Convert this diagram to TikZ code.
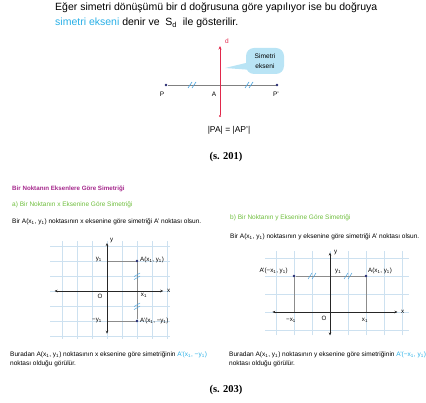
\documentclass[tikz,border=0pt]{standalone}
\usepackage{fontspec}
\setmainfont{Liberation Sans}
\newfontfamily\capfont{Liberation Serif}
\usetikzlibrary{arrows.meta,calc}
\definecolor{cyantxt}{RGB}{40,175,230}
\definecolor{magtxt}{RGB}{165,40,140}
\definecolor{greentxt}{RGB}{110,190,60}
\definecolor{redline}{RGB}{225,40,75}
\definecolor{dotblue}{RGB}{35,40,110}
\definecolor{bubble}{RGB}{185,228,245}
\definecolor{tickblue}{RGB}{70,160,220}
\definecolor{gridblue}{RGB}{205,225,240}
\begin{document}
\begin{tikzpicture}[x=1pt,y=-1pt,
  txt/.style={inner sep=0pt,anchor=west,font=\fontsize{10.5}{12}\selectfont},
  small/.style={inner sep=0pt,anchor=west,font=\fontsize{6.5}{7}\selectfont},
  lbl/.style={inner sep=0pt,font=\fontsize{6.5}{7}\selectfont},
  glbl/.style={inner sep=0pt,font=\fontsize{6.2}{7}\selectfont},
  captxt/.style={inner sep=0pt,font=\capfont\bfseries\fontsize{10.5}{12}\selectfont},
  gridline/.style={draw=gridblue,line width=0.4pt},
  axisline/.style={draw=black!85,line width=0.8pt,{Stealth[length=3pt,width=2.5pt]}-{Stealth[length=3pt,width=2.5pt]}},
  helper/.style={draw=black!45,line width=0.4pt},
  tickmark/.style={draw=tickblue,line width=0.5pt},
  dot/.style={circle,fill=dotblue,inner sep=0pt,minimum size=2.6pt}]
\useasboundingbox (0,0) rectangle (426,403);
% ---------- top text ----------
\node[txt] (l1) at (55,8) {Eğer simetri dönüşümü bir d doğrusuna göre yapılıyor ise bu doğruya};
\node[txt] (l2) at (55,23) {\textcolor{cyantxt}{simetri ekseni} denir ve \ S\textsubscript{d} \ ile gösterilir.};
% ---------- top figure ----------
\coordinate (dtop) at (220,46);
\node[circle,fill=redline,inner sep=0pt,minimum size=2.4pt] (dbot) at (220,116) {};
\node[dot] (P) at (166,85) {};
\node[dot] (Pp) at (277,85) {};
\coordinate (A) at (220,85);
\fill[bubble,rounded corners=8pt] (246,48) rectangle (284,74);
\fill[bubble] (250,62) -- (225,68) -- (252,70) -- cycle;
\node[lbl,align=center,font=\fontsize{6.6}{10}\selectfont] (bub) at (265,61) {Simetri\\ekseni};
\draw[black!50,line width=0.7pt] (P) -- (Pp);
\draw[redline,line width=0.7pt,-{Stealth[length=3.5pt,width=3pt]}] (dbot) -- (dtop);
\node[lbl,text=redline,anchor=west] (dl) at (225,41) {d};
\draw[tickmark,line width=0.6pt] (188,88) -- (192,82) (192,88) -- (196,82);
\draw[tickmark,line width=0.6pt] (245,88) -- (249,82) (249,88) -- (253,82);
\node[lbl] (Pl) at (162,94) {P};
\node[lbl] (Al) at (214,94) {A};
\node[lbl] (Ppl) at (276,94) {P'};
\node[lbl,font=\fontsize{8.5}{10}\selectfont] (eq) at (229,130) {|PA| = |AP'|};
\node[captxt] (cap1) at (226,157) {(s. 201)};
% ---------- section texts ----------
\node[small,text=magtxt,font=\bfseries\fontsize{6.2}{7}\selectfont] (h1) at (12,189) {Bir Noktanın Eksenlere  Göre Simetriği};
\node[small,text=greentxt] (ha) at (12,205) {a) Bir Noktanın x Eksenine Göre Simetriği};
\node[small] (ta) at (12,222) {Bir A(x\textsubscript{1}, y\textsubscript{1}) noktasının x eksenine göre simetriği A' noktası olsun.};
\node[small,text=greentxt] (hb) at (230,218) {b) Bir Noktanın y Eksenine Göre Simetriği};
\node[small] (tb) at (230,237) {Bir A(x\textsubscript{1}, y\textsubscript{1}) noktasının y eksenine göre simetriği A' noktası olsun.};
% ---------- left grid ----------
\begin{scope}[shift={(107,291)}]
\begin{scope}[x=15pt,y=15pt]
\foreach \k in {-3,...,3} \draw[gridline] (-3.8,\k) -- (4.2,\k);
\foreach \k in {-3,...,4} \draw[gridline] (\k,-3.2) -- (\k,3.3);
\coordinate (LA0) at (0,2);
\coordinate (LB0) at (0,-2);
\node[dot] (LA) at (2,2) {};
\node[dot] (LB) at (2,-2) {};
\draw[helper] (LA0) -- (LA) -- (LB) -- (LB0);
\coordinate (Lx1) at (-3.5,0); \coordinate (Lx2) at (3.75,0);
\coordinate (Ly1) at (0,-2.85); \coordinate (Ly2) at (0,3.2);
\draw[axisline] (Lx1) -- (Lx2);
\draw[axisline] (Ly1) -- (Ly2);
\coordinate (LT1) at (2,1); \coordinate (LT2) at (2,-1);
\end{scope}
\end{scope}
\draw[tickmark] ($(LT1)+(-3,0.6)$) -- ($(LT1)+(3,-3)$) ($(LT1)+(-3,3.6)$) -- ($(LT1)+(3,0)$);
\draw[tickmark] ($(LT2)+(-3,0.6)$) -- ($(LT2)+(3,-3)$) ($(LT2)+(-3,3.6)$) -- ($(LT2)+(3,0)$);
\node[glbl,anchor=west] (Lyl) at (110,241) {y};
\node[glbl,anchor=west] (Lxl) at (167,291) {x};
\node[glbl] (LO) at (100,296) {O};
\node[glbl] (Lx1l) at (144,295) {x\textsubscript{1}};
\node[glbl,anchor=east] (Ly1l) at (102,260) {y\textsubscript{1}};
\node[glbl,anchor=east] (Lmy1l) at (102,321) {−y\textsubscript{1}};
\node[glbl,anchor=west] (LAl) at (140,260) {A(x\textsubscript{1}, y\textsubscript{1})};
\node[glbl,anchor=west] (LBl) at (140,321) {A'(x\textsubscript{1}, −y\textsubscript{1})};
% ---------- right grid ----------
\begin{scope}[shift={(330,312)}]
\begin{scope}[x=18pt,y=18pt]
\foreach \k in {-1,...,3} \draw[gridline] (-3.6,\k) -- (4.4,\k);
\foreach \k in {-3,...,4} \draw[gridline] (\k,-1.3) -- (\k,3.4);
\node[dot] (RA) at (2,2) {};
\node[dot] (RB) at (-2,2) {};
\coordinate (RAx) at (2,0); \coordinate (RBx) at (-2,0);
\draw[helper] (RAx) -- (RA) -- (RB) -- (RBx);
\coordinate (Rx1) at (-3.2,0); \coordinate (Rx2) at (3.75,0);
\coordinate (Ry1) at (0,-1.3); \coordinate (Ry2) at (0,3.3);
\draw[axisline] (Rx1) -- (Rx2);
\draw[axisline] (Ry1) -- (Ry2);
\coordinate (RT1) at (-1,2); \coordinate (RT2) at (1,2);
\end{scope}
\end{scope}
\draw[tickmark] ($(RT1)+(-4,3)$) -- ($(RT1)+(0,-3)$) ($(RT1)+(0,3)$) -- ($(RT1)+(4,-3)$);
\draw[tickmark] ($(RT2)+(-4,3)$) -- ($(RT2)+(0,-3)$) ($(RT2)+(0,3)$) -- ($(RT2)+(4,-3)$);
\node[glbl,anchor=west] (Ryl) at (334,253) {y};
\node[glbl,anchor=west] (Rxl) at (401,312) {x};
\node[glbl] (RO) at (324,318) {O};
\node[glbl] (Rx1l) at (365,320) {x\textsubscript{1}};
\node[glbl] (Rmx1l) at (291,320) {−x\textsubscript{1}};
\node[glbl,anchor=west] (Ry1l) at (335,272) {y\textsubscript{1}};
\node[glbl,anchor=east] (RBl) at (288,271) {A'(−x\textsubscript{1}, y\textsubscript{1})};
\node[glbl,anchor=west] (RAl) at (368,271) {A(x\textsubscript{1}, y\textsubscript{1})};
% ---------- bottom texts ----------
\node[small] (ba1) at (10,355) {Buradan A(x\textsubscript{1}, y\textsubscript{1}) noktasının x eksenine göre simetriğinin \textcolor{cyantxt}{A'(x\textsubscript{1}, −y\textsubscript{1})}};
\node[small] (ba2) at (10,364) {noktası olduğu görülür.};
\node[small] (bb1) at (229,355) {Buradan A(x\textsubscript{1}, y\textsubscript{1}) noktasının y eksenine göre simetriğinin \textcolor{cyantxt}{A'(−x\textsubscript{1}, y\textsubscript{1})}};
\node[small] (bb2) at (229,364) {noktası olduğu görülür.};
\node[captxt] (cap2) at (226,390) {(s. 203)};
\end{tikzpicture}
\end{document}
